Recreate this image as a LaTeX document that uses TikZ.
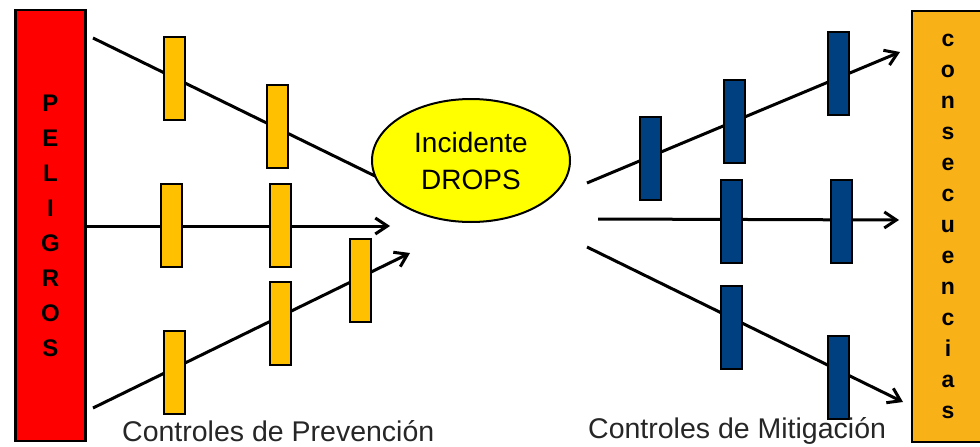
\documentclass[tikz,border=0pt]{standalone}
\usepackage{fontspec}
\setmainfont{Liberation Sans}
\usetikzlibrary{arrows.meta,shapes.geometric}
\definecolor{prevcol}{HTML}{FFC000}
\definecolor{miticol}{HTML}{004080}
\definecolor{conscol}{HTML}{F9B118}
\definecolor{dropscol}{HTML}{FFFF00}
\definecolor{pelcol}{HTML}{FF0000}
\begin{document}
\begin{tikzpicture}[x=1pt,y=-1pt,
  ctl/.style={draw=black, line width=2pt, minimum width=21pt, minimum height=83pt, inner sep=0pt},
  prev/.style={ctl, fill=prevcol},
  miti/.style={ctl, fill=miticol},
  chain/.style={line width=3pt, black},
  arr/.style={chain, -{Straight Barb[length=12pt,width=16pt]}},
  side/.style={draw=black, line width=2.5pt, minimum height=431pt, inner sep=0pt, align=center},
  lbl/.style={anchor=base west, inner sep=0pt, font=\fontsize{28.5}{34}\selectfont, text=black!85}]
\useasboundingbox (0,0) rectangle (980,447);
% side boxes
\node[side, minimum width=70pt, fill=pelcol, font=\fontsize{24}{35}\selectfont\bfseries] (peligros) at (50.5,225.5) {P\\E\\L\\I\\G\\R\\O\\S};
\node[side, minimum width=88pt, fill=conscol] (consec) at (956,226.5) {};
\node[align=center, inner sep=0pt, font=\fontsize{23}{31}\selectfont\bfseries] (constext) at (948,226.5) {c\\o\\n\\s\\e\\c\\u\\e\\n\\c\\i\\a\\s};
% coordinates
\coordinate (a1) at (93,38);
\coordinate (a2) at (376,176.5);
\coordinate (b2) at (390,226);
\coordinate (c1) at (93,408);
\coordinate (c2) at (410,253);
\coordinate (d1) at (587,183);
\coordinate (d2) at (900,52);
\coordinate (e1) at (598,219);
\coordinate (e2) at (899,220);
\coordinate (f1) at (587,247);
\coordinate (f2) at (903,402);
% paths
\draw[chain] (a1) -- (a2);
\draw[arr] (peligros.east |- b2) -- (b2);
\draw[arr] (c1) -- (c2);
\draw[arr] (d1) -- (d2);
\draw[arr] (e1) -- (e2);
\draw[arr] (f1) -- (f2);
% incident
\node[ellipse, draw=black, line width=2pt, fill=dropscol, minimum width=198pt, minimum height=123pt, inner sep=0pt, align=center, font=\fontsize{28}{37}\selectfont] (drops) at (471,160.5) {Incidente\\DROPS};
% prevention controls
\node[prev] (p1) at (174,78) {};
\node[prev] (p2) at (277.5,126) {};
\node[prev] (p3) at (171,225.5) {};
\node[prev] (p4) at (280.5,225.5) {};
\node[prev] (p5) at (174,372) {};
\node[prev] (p6) at (280.5,323.5) {};
\node[prev] (p7) at (360.5,280.5) {};
% mitigation controls
\node[miti] (m1) at (650.5,158.5) {};
\node[miti] (m2) at (734,121.5) {};
\node[miti] (m3) at (838,73.5) {};
\node[miti] (m4) at (731,221) {};
\node[miti] (m5) at (841,221) {};
\node[miti] (m6) at (731,327.5) {};
\node[miti] (m7) at (838,377.5) {};
% labels
\node[lbl] (prevlbl) at (122,441) {Controles de Prevención};
\node[lbl] (mitilbl) at (588,438) {Controles de Mitigación};
\end{tikzpicture}
\end{document}
